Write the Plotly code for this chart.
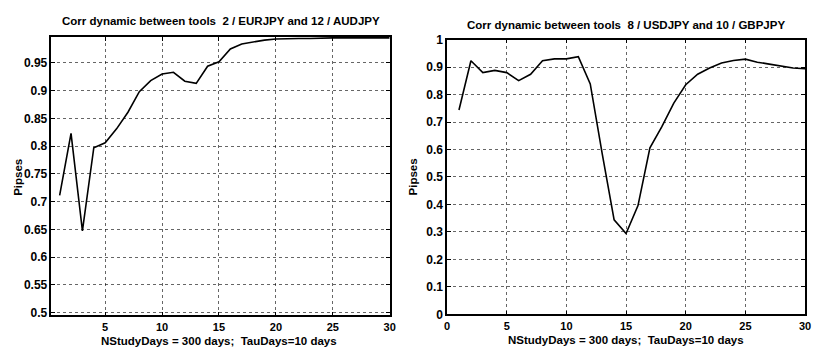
import plotly.graph_objects as go

days = list(range(1, 31))
corr_eur_aud = [0.711, 0.823, 0.647, 0.797, 0.806, 0.831, 0.861, 0.898, 0.918, 0.930,
                0.933, 0.917, 0.913, 0.944, 0.952, 0.975, 0.984, 0.988, 0.991, 0.993,
                0.994, 0.994, 0.994, 0.995, 0.995, 0.995, 0.995, 0.995, 0.995, 0.995]
corr_usd_gbp = [0.744, 0.923, 0.880, 0.888, 0.880, 0.851, 0.874, 0.923, 0.930, 0.930,
                0.938, 0.839, 0.585, 0.344, 0.294, 0.396, 0.606, 0.683, 0.769, 0.836,
                0.874, 0.897, 0.915, 0.924, 0.929, 0.918, 0.911, 0.904, 0.897, 0.894]

title_left = "Corr dynamic between tools \u00a02 / EURJPY and 12 / AUDJPY"
title_right = "Corr dynamic between tools \u00a08 / USDJPY and 10 / GBPJPY"
xlabel = "NStudyDays = 300 days; \u00a0TauDays=10 days"
ylabel = "Pipses"

left_yticks = [0.5, 0.55, 0.6, 0.65, 0.7, 0.75, 0.8, 0.85, 0.9, 0.95]
right_yticks = [0, 0.1, 0.2, 0.3, 0.4, 0.5, 0.6, 0.7, 0.8, 0.9, 1]
left_xticks = [5, 10, 15, 20, 25, 30]
right_xticks = [0, 5, 10, 15, 20, 25, 30]

W, H = 817, 354
FONT = "Liberation Sans"

fig = go.Figure()
fig.add_trace(go.Scatter(x=days, y=corr_eur_aud, mode="lines",
                         line=dict(color="black", width=1.6), xaxis="x", yaxis="y"))
fig.add_trace(go.Scatter(x=days, y=corr_usd_gbp, mode="lines",
                         line=dict(color="black", width=1.6), xaxis="x2", yaxis="y2"))

def common(size):
    return dict(showline=True, linecolor="black", linewidth=1.5, mirror="ticks",
                ticks="inside", ticklen=4, tickcolor="black", showgrid=True,
                gridcolor="rgba(0,0,0,0.6)", griddash="dot", gridwidth=1,
                zeroline=False,
                tickfont=dict(family=FONT, size=size, color="black", weight="bold"))

def px(x):
    return x / W

def py(y):
    return 1 - y / H

fig.update_layout(
    width=W, height=H, margin=dict(l=0, r=0, t=0, b=0),
    paper_bgcolor="white", plot_bgcolor="white", showlegend=False,
    xaxis=dict(domain=[px(49), px(391)], range=[0.28, 30], tickvals=left_xticks,
               anchor="y", ticklabelstandoff=1, **common(11)),
    yaxis=dict(domain=[py(321), py(31)], range=[0.495, 0.997], tickvals=left_yticks,
               ticktext=[f"{v:g}" for v in left_yticks], anchor="x", **common(12)),
    xaxis2=dict(domain=[px(449), px(811)], range=[0, 30], tickvals=right_xticks,
                anchor="y2", ticklabelstandoff=1, **common(11)),
    yaxis2=dict(domain=[py(320), py(34)], range=[0, 1], tickvals=right_yticks,
                ticktext=[f"{v:g}" for v in right_yticks], anchor="x2", **common(12)),
)

tfont = dict(family=FONT, size=11.5, color="black", weight="bold")
ann = [
    dict(x=px(220), y=py(15), text=title_left),
    dict(x=px(630), y=py(19), text=title_right),
    dict(x=px(218), y=py(347.5), text=xlabel),
    dict(x=px(630), y=py(346.5), text=xlabel),
    dict(x=px(15), y=py(177), text=ylabel, textangle=-90),
    dict(x=px(415), y=py(177), text=ylabel, textangle=-90),
]
for a in ann:
    fig.add_annotation(xref="paper", yref="paper", showarrow=False,
                       xanchor="center", yanchor="middle", font=tfont, **a)

fig.write_html("out.html")
